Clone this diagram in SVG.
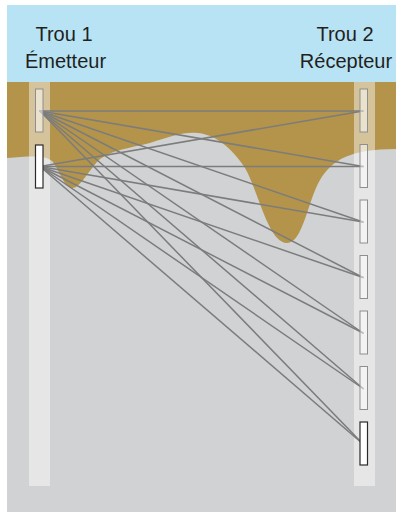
<svg xmlns="http://www.w3.org/2000/svg" width="396" height="512" viewBox="0 0 396 512">
  <style>
    .label { font-family: "Liberation Sans", Arial, sans-serif; font-size: 20px; fill: #231f20; text-anchor: middle; }
    .hole { fill: #ffffff; fill-opacity: 0.45; }
    .probe { fill: #ffffff; fill-opacity: 0.5; stroke: #8e8e8e; stroke-width: 1; }
    .probe-active { fill: #ffffff; stroke: #2b2b2b; stroke-width: 1.2; }
    .ray { stroke: #7c7c7c; stroke-width: 1.5; fill: none; stroke-linecap: round; }
  </style>

  <!-- sky -->
  <rect x="7" y="5" width="389" height="77" fill="#b7e3f5"/>
  <!-- upper soil layer -->
  <rect x="7" y="82" width="389" height="430" fill="#b3944a"/>
  <!-- lower formation with irregular top -->
  <path id="formation" fill="#d1d2d4" d="M7,158 C30,156 45,155 52,161 C58,167 64,188 72,188 C80,189 90,168 100,159 C112,150 130,148 150,143 C170,137 182,132 197,133 C215,134 232,148 245,168 C258,190 268,243 287,243 C303,243 308,200 320,180 C332,160 350,149 396,149 L396,512 L7,512 Z"/>

  <!-- boreholes -->
  <rect class="hole" x="29" y="82" width="21" height="404"/>
  <rect class="hole" x="354" y="82" width="21" height="404"/>

  <!-- labels -->
  <text class="label" x="64" y="41">Trou 1</text>
  <text class="label" x="65.5" y="68">Émetteur</text>
  <text class="label" x="345" y="41">Trou 2</text>
  <text class="label" x="346" y="68">Récepteur</text>

  <!-- ray paths between transmitters and receivers -->
  <g id="connectors">
    <line class="ray" x1="40" y1="111" x2="363" y2="111"/>
    <line class="ray" x1="40" y1="111" x2="363" y2="166.5"/>
    <line class="ray" x1="40" y1="111" x2="363" y2="222"/>
    <line class="ray" x1="40" y1="111" x2="363" y2="277.5"/>
    <line class="ray" x1="40" y1="111" x2="363" y2="333"/>
    <line class="ray" x1="40" y1="111" x2="363" y2="388.5"/>
    <line class="ray" x1="40" y1="111" x2="363" y2="444"/>
    <line class="ray" x1="40" y1="166.5" x2="363" y2="111"/>
    <line class="ray" x1="40" y1="166.5" x2="363" y2="166.5"/>
    <line class="ray" x1="40" y1="166.5" x2="363" y2="222"/>
    <line class="ray" x1="40" y1="166.5" x2="363" y2="277.5"/>
    <line class="ray" x1="40" y1="166.5" x2="363" y2="333"/>
    <line class="ray" x1="40" y1="166.5" x2="363" y2="388.5"/>
    <line class="ray" x1="40" y1="166.5" x2="363" y2="444"/>
  </g>

  <!-- transmitters (hole 1) -->
  <g id="tx1"><rect class="probe" x="35.5" y="89" width="7.5" height="43"/></g>
  <g id="tx2"><rect class="probe-active" x="35.5" y="145" width="7.5" height="43"/></g>

  <!-- receivers (hole 2) -->
  <g id="rx1"><rect class="probe" x="360" y="89" width="7.5" height="43"/></g>
  <g id="rx2"><rect class="probe" x="360" y="144.5" width="7.5" height="43"/></g>
  <g id="rx3"><rect class="probe" x="360" y="200" width="7.5" height="43"/></g>
  <g id="rx4"><rect class="probe" x="360" y="255.5" width="7.5" height="43"/></g>
  <g id="rx5"><rect class="probe" x="360" y="311" width="7.5" height="43"/></g>
  <g id="rx6"><rect class="probe" x="360" y="366.5" width="7.5" height="43"/></g>
  <g id="rx7"><rect class="probe-active" x="360" y="422" width="7.5" height="43"/></g>
</svg>
